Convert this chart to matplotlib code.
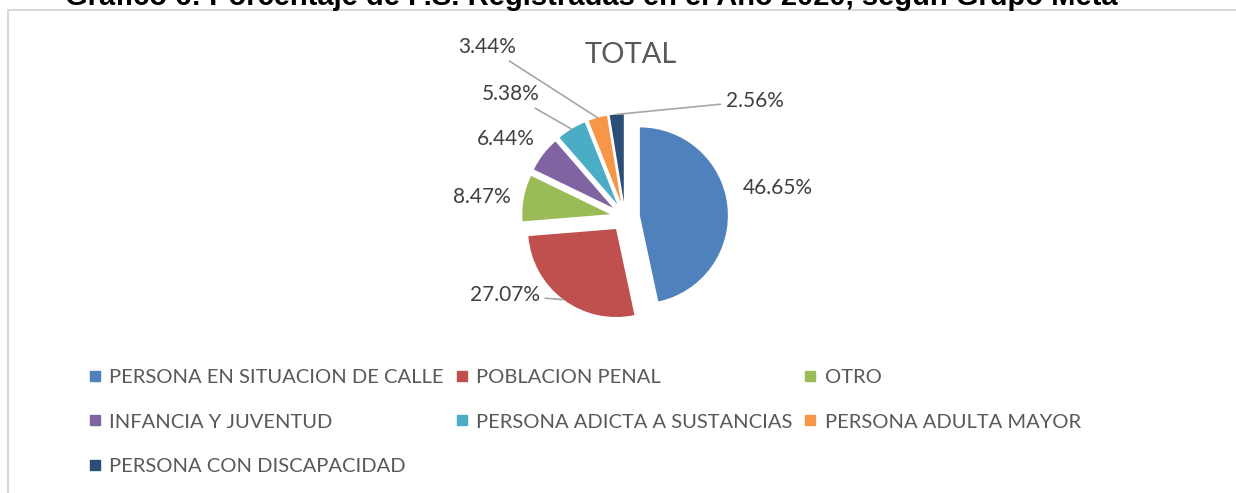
import matplotlib.pyplot as plt
import numpy as np
from matplotlib.lines import Line2D
from matplotlib.patches import Rectangle

plt.rcParams['font.family'] = ['Lato', 'DejaVu Sans']

GROUPS = ['PERSONA EN SITUACION DE CALLE', 'POBLACION PENAL', 'OTRO',
          'INFANCIA Y JUVENTUD', 'PERSONA ADICTA A SUSTANCIAS',
          'PERSONA ADULTA MAYOR', 'PERSONA CON DISCAPACIDAD']
PCT = [46.65, 27.07, 8.47, 6.44, 5.38, 3.44, 2.56]
COLORS = ['#4F81BD', '#C0504D', '#9BBB59', '#8064A2', '#4BACC6', '#F79646', '#2C4D75']

# label placement (angle in degrees, radius) and whether Excel drew a leader line
label_pos = [(10.7, 1.77), (213, 1.63), (172, 1.64), (147, 1.62),
             (133, 1.91), (129, 2.49), (41.8, 1.98)]
leader = [False, True, False, False, True, True, True]

W, H = 1236, 493
fig = plt.figure(figsize=(W / 100, H / 100), dpi=100)

# chart frame
fig.patches.append(Rectangle((8 / W, -0.1), 1.2, 1.1 - 10 / H, transform=fig.transFigure,
                             fill=False, edgecolor='#D9D9D9', linewidth=1.5))
# page title, cut off by the crop like in the source document
fig.text(591 / W, 1 - 5 / H, 'Gráfico 6: Porcentaje de P.S. Registradas en el Año 2020, según Grupo Meta',
         ha='center', va='baseline', fontsize=21, fontweight='bold', family='Liberation Sans')

R = 88  # pie radius in px
L = 2.5
cx, cy = 625, 217
ax = fig.add_axes([(cx - L * R) / W, (H - cy - L * R) / H, 2 * L * R / W, 2 * L * R / H])
explode = [0.17] * len(PCT)
wedges, _ = ax.pie(PCT, colors=COLORS, startangle=90, counterclock=False,
                   explode=explode, radius=1)
ax.set_xlim(-L, L)
ax.set_ylim(-L, L)
ax.set_aspect('equal')
ax.axis('off')

for w, p, (ang, r), ld in zip(wedges, PCT, label_pos, leader):
    mid = np.deg2rad((w.theta1 + w.theta2) / 2)
    ox, oy = w.center
    edge = (ox + np.cos(mid), oy + np.sin(mid))
    tx, ty = r * np.cos(np.deg2rad(ang)), r * np.sin(np.deg2rad(ang))
    kw = {}
    if ld:
        kw['arrowprops'] = dict(arrowstyle='-', color='#A6A6A6', lw=1.2,
                                shrinkA=2, shrinkB=0)
    ax.annotate(f'{p:.2f}%', xy=edge, xytext=(tx, ty), ha='center', va='center',
                fontsize=15, color='#404040', annotation_clip=False, **kw)

ax.text(0.06, 1.84, 'TOTAL', ha='center', va='center', fontsize=21, color='#595959')

# legend, row-major order like Excel
order = [0, 3, 6, 1, 4, 2, 5]
handles = [Line2D([], [], marker='s', ls='none', markersize=7,
                  markerfacecolor=COLORS[i], markeredgecolor=COLORS[i]) for i in order]
fig.legend(handles, [GROUPS[i] for i in order], ncol=3, loc='upper left',
           bbox_to_anchor=(71 / W, 1 - 351 / H), frameon=False, fontsize=14.5,
           labelcolor='#595959', handlelength=0.6, handletextpad=0.4,
           columnspacing=0.6, labelspacing=1.35)

fig.savefig('out.png', dpi=100)
